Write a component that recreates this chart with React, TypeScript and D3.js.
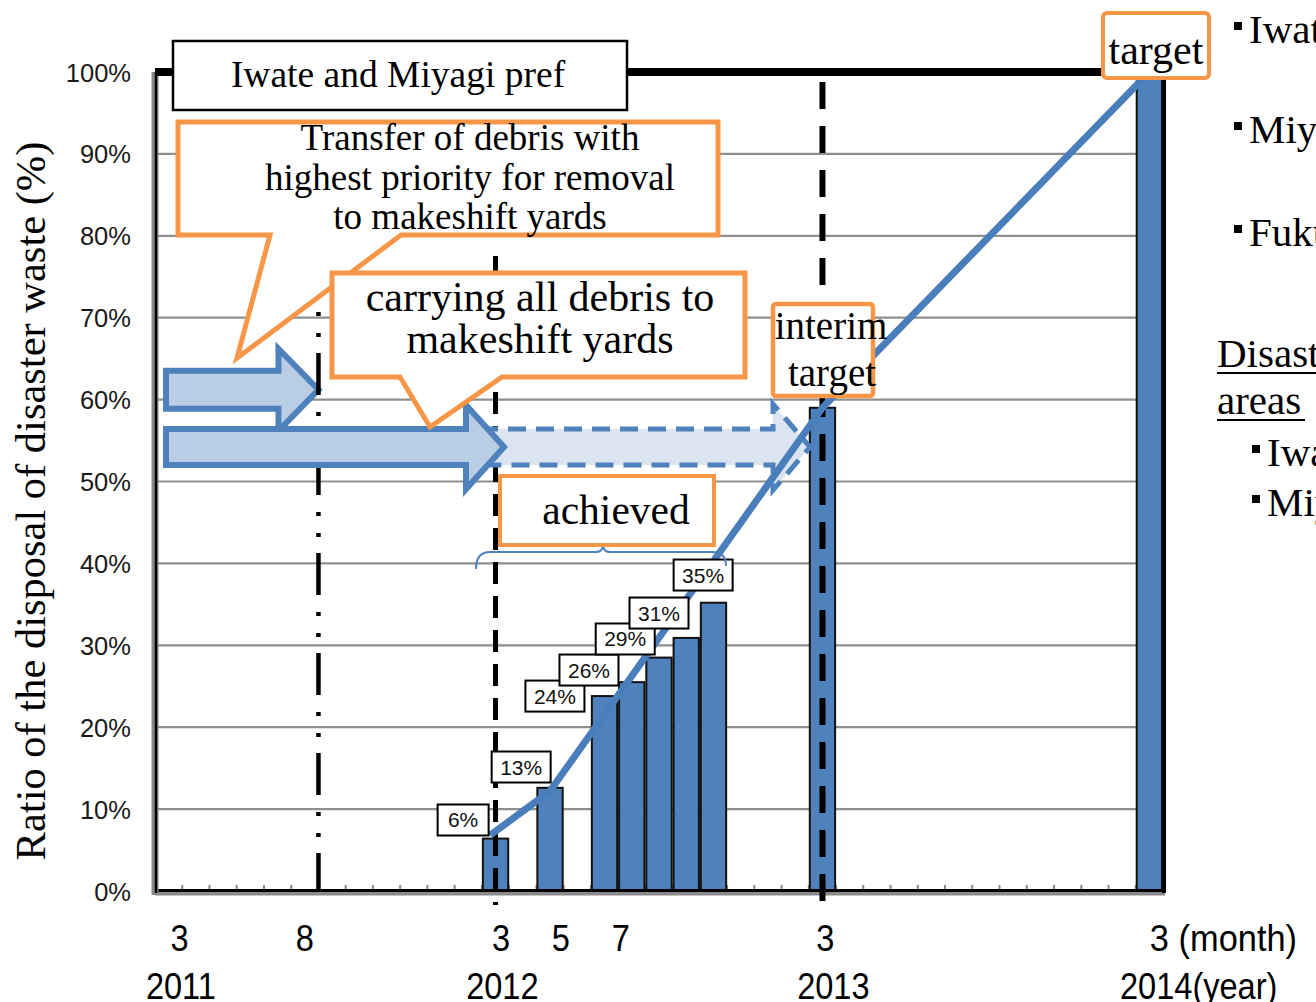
import React from "react";
import * as d3 from "d3";

// ---------- data ----------
const months = d3.range(37); // 0 = Mar 2011 ... 36 = Mar 2014
const barMonth = [12, 14, 16, 17, 18, 19, 20, 24, 36];
const barValue = [6.4, 12.6, 23.8, 25.5, 28.5, 30.9, 35.2, 59, 100];
const labelText = ["6%", "13%", "24%", "26%", "29%", "31%", "35%"];
const labelMonth = [10.81, 12.94, 14.18, 15.43, 16.76, 18.0, 19.62];
const labelValue = [8.67, 15.14, 23.8, 26.98, 30.77, 33.94, 38.58];
const trendMonth = [11.8, 14, 24, 36];
const trendValue = [6.8, 12.2, 59, 100];
const yTicks = [0, 10, 20, 30, 40, 50, 60, 70, 80, 90, 100];
const monthTickPos = [0.4, 5, 12.2, 14.4, 16.6, 24.1, 36.35];
const monthTickText = ["3", "8", "3", "5", "7", "3", "3"];
const yearTickPos = [0.45, 12.25, 24.4, 36.25];
const yearTickText = ["2011", "2012", "2013", "2014"];
const monthUnit = " (month)";
const yearUnit = "(year)";
const dashDotMonth = 5.5;
const phaseMonths = [12, 24];
const rightItems = ["Iwate", "Miyagi", "Fukushima"];
const areaItems = ["Iwate", "Miyagi"];

const W = 1316;
const H = 1002;
const SERIF = "'Liberation Serif', 'Times New Roman', serif";
const SANS = "'Liberation Sans', Arial, 'Noto Sans CJK JP', sans-serif";
const BLUE = "#4f81bd";
const ORANGE = "#f79646";

const PL = 155, PR = 1163, PT = 72, PB = 891;

export default function App() {
  const xb = d3.scaleBand<number>().domain(months).range([PL, PR]).paddingInner(0.07).paddingOuter(0.035);
  const xm = d3.scaleLinear().domain([-0.5, 36.5]).range([PL, PR]);
  const y = d3.scaleLinear().domain([0, 100]).range([PB, PT]);
  const step = xb.step();

  const line = d3.line<number>().x((_, i) => xm(trendMonth[i])).y((d) => y(d));

  const arrow = (x0: number, x1: number, cy: number, sh: number, hh: number, hl: number) =>
    `M${x0},${cy - sh}L${x1 - hl},${cy - sh}L${x1 - hl},${cy - hh}L${x1},${cy}L${x1 - hl},${cy + hh}L${x1 - hl},${cy + sh}L${x0},${cy + sh}Z`;

  const callout = (x0: number, y0: number, x1: number, y1: number, ta: number, tb: number, px: number, py: number) =>
    `M${x0},${y0}L${x1},${y0}L${x1},${y1}L${tb},${y1}L${px},${py}L${ta},${y1}L${x0},${y1}Z`;

  const upperCy = y(61.2);
  const lowerCy = y(54.2);

  const bullet = (x: number, base: number) => (
    <rect x={x} y={base - 21} width={8} height={8} fill="#000" />
  );

  const digitW = 37 * 0.88 * 0.556;
  const lastM = monthTickText.length - 1;
  const lastY = yearTickText.length - 1;

  return (
    <svg width={W} height={H} style={{ position: "absolute", left: 0, top: 0, overflow: "hidden", background: "#fff" }}>
      <rect x={0} y={0} width={W} height={H} fill="#fff" />
      {/* gridlines */}
      {yTicks.filter((t) => t > 0 && t < 100).map((t) => (
        <line key={t} x1={PL} x2={PR} y1={y(t)} y2={y(t)} stroke="#8f8f8f" strokeWidth={2.2} />
      ))}
      {/* bottom ticks */}
      {months.slice(1).map((m) => {
        const xx = (xb(m) as number) - (step - xb.bandwidth()) / 2;
        return <line key={m} x1={xx} x2={xx} y1={PB - 6} y2={PB} stroke="#888" strokeWidth={2} />;
      })}
      {/* bars */}
      {barMonth.map((m, i) => (
        <rect key={m} x={xb(m)} y={y(barValue[i])} width={xb.bandwidth()} height={PB - y(barValue[i])}
          fill={BLUE} stroke="#111" strokeWidth={2} />
      ))}
      {/* axes */}
      <line x1={PL} x2={PR + 2} y1={PB + 2} y2={PB + 2} stroke="#8a8a8a" strokeWidth={5} />
      <line x1={PL} x2={PR + 2} y1={PB - 0.5} y2={PB - 0.5} stroke="#000" strokeWidth={3} />
      <line x1={PL} x2={PL} y1={PT} y2={PB + 4} stroke="#8a8a8a" strokeWidth={7} />
      <line x1={PL + 1} x2={PL + 1} y1={PT} y2={PB + 2} stroke="#000" strokeWidth={2.5} />
      <line x1={PR + 1} x2={PR + 1} y1={PT} y2={PB + 2} stroke="#000" strokeWidth={4} />
      <line x1={PL} x2={PR + 3} y1={PT} y2={PT} stroke="#000" strokeWidth={8} />

      {/* vertical phase lines */}
      <line x1={xm(phaseMonths[0])} x2={xm(phaseMonths[0])} y1={256} y2={905} stroke="#000" strokeWidth={5} strokeDasharray="22,12" />
      <line x1={xm(phaseMonths[1])} x2={xm(phaseMonths[1])} y1={82} y2={905} stroke="#000" strokeWidth={6} strokeDasharray="27,17" />

      {/* arrows */}
      <path d={arrow(480, 810, lowerCy, 18, 43, 37)} fill="#dbe5f1" stroke={BLUE} strokeWidth={5} strokeDasharray="18,10" />
      <path d={arrow(166, xm(dashDotMonth), upperCy, 19, 41, 40)} fill="#b9cde5" stroke={BLUE} strokeWidth={6} strokeLinejoin="miter" />
      <line x1={xm(dashDotMonth)} x2={xm(dashDotMonth)} y1={253} y2={PB} stroke="#000" strokeWidth={4.5} strokeDasharray="42,17,4,17,4,16" />
      <path d={arrow(166, 504, lowerCy, 18, 42, 38)} fill="#b9cde5" stroke={BLUE} strokeWidth={6} strokeLinejoin="miter" />

      {/* trend line */}
      <path d={line(trendValue) as string} fill="none" stroke="#4a7ebb" strokeWidth={7} strokeLinejoin="round" />

      {/* value labels */}
      {labelText.map((t, i) => {
        const w = t.length === 2 ? 51 : 59;
        const cx = xm(labelMonth[i]);
        const cy = y(labelValue[i]);
        return (
          <g key={t}>
            <rect x={cx - w / 2} y={cy - 15.5} width={w} height={31} fill="#fff" stroke="#000" strokeWidth={2} />
            <text x={cx} y={cy + 7.5} textAnchor="middle" fontFamily={SANS} fontSize={21} fill="#111">{t}</text>
          </g>
        );
      })}

      {/* achieved brace */}
      <path d="M476,569 Q476,552 490,552 L596,552 Q602,552 603,546 Q604,552 610,552 L712,552 Q726,552 726,566"
        fill="none" stroke={BLUE} strokeWidth={2} />

      {/* callouts */}
      <path d={callout(178, 122, 718, 235, 270, 401, 237, 358)} fill="#fff" stroke={ORANGE} strokeWidth={5} strokeLinejoin="miter" />
      <g fontFamily={SERIF} fontSize={37} textAnchor="middle" fill="#000">
        <text x={470} y={150}>Transfer of debris with</text>
        <text x={470} y={190}>highest priority for removal</text>
        <text x={470} y={229}>to makeshift yards</text>
      </g>
      <path d={callout(332, 273, 745, 377, 400, 502, 430, 427)} fill="#fff" stroke={ORANGE} strokeWidth={5} strokeLinejoin="miter" />
      <g fontFamily={SERIF} fontSize={42} textAnchor="middle" fill="#000">
        <text x={540} y={311}>carrying all debris to</text>
        <text x={540} y={353}>makeshift yards</text>
      </g>
      <rect x={500} y={476} width={214} height={69} fill="#fff" stroke={ORANGE} strokeWidth={4} />
      <text x={616} y={524} textAnchor="middle" fontFamily={SERIF} fontSize={41.5} fill="#000">achieved</text>

      <rect x={773} y={304} width={100} height={92} rx={3} fill="#fff" stroke={ORANGE} strokeWidth={4.5} />
      <g fontFamily={SERIF} fontSize={39} textAnchor="middle" fill="#000">
        <text x={831} y={339}>interim</text>
        <text x={832} y={386}>target</text>
      </g>

      <rect x={1103} y={13} width={106} height={65} rx={4} fill="#fff" stroke={ORANGE} strokeWidth={4} />
      <text x={1156} y={64} textAnchor="middle" fontFamily={SERIF} fontSize={42} fill="#000">target</text>

      <rect x={173} y={41} width={454} height={69} fill="#fff" stroke="#000" strokeWidth={2.5} />
      <text x={398} y={87} textAnchor="middle" fontFamily={SERIF} fontSize={37.5} fill="#000">Iwate and Miyagi pref</text>

      {/* y axis labels */}
      {yTicks.map((t) => (
        <text key={t} x={131} y={y(t) + 9.5} textAnchor="end" fontFamily={SANS} fontSize={25.5} fill="#1a1a1a">{t}%</text>
      ))}
      <text transform={`translate(45,${(140 + 862) / 2}) rotate(-90)`} textAnchor="middle" fontFamily={SERIF} fontSize={42.5} fill="#000">
        Ratio of the disposal of disaster waste (%)
      </text>

      {/* x axis labels */}
      {monthTickText.map((t, i) =>
        i === lastM ? (
          <text key={"m" + i} transform={`translate(${xm(monthTickPos[i]) - (digitW * t.length) / 2},951) scale(0.93,1)`} fontFamily={SANS} fontSize={37} fill="#000" style={{ whiteSpace: "pre" }}>
            {t + monthUnit}
          </text>
        ) : (
          <text key={"m" + i} transform={`translate(${xm(monthTickPos[i])},951) scale(0.88,1)`} textAnchor="middle" fontFamily={SANS} fontSize={37} fill="#000">{t}</text>
        )
      )}
      {yearTickText.map((t, i) =>
        i === lastY ? (
          <text key={"y" + i} transform={`translate(${xm(yearTickPos[i]) - (digitW * t.length) / 2},999) scale(0.88,1)`} fontFamily={SANS} fontSize={37} fill="#000">
            {t + yearUnit}
          </text>
        ) : (
          <text key={"y" + i} transform={`translate(${xm(yearTickPos[i])},999) scale(0.88,1)`} textAnchor="middle" fontFamily={SANS} fontSize={37} fill="#000">{t}</text>
        )
      )}

      {/* right side text */}
      <g fontFamily={SERIF} fontSize={41} fill="#000">
        {rightItems.map((t, i) => {
          const base = [43, 143, 246][i];
          return (
            <g key={"r" + i}>
              {bullet(1234, base)}
              <text x={1249} y={base}>{t}</text>
            </g>
          );
        })}
        <text x={1217} y={367}>Disaster</text>
        <line x1={1217} x2={1316} y1={373} y2={373} stroke="#000" strokeWidth={2} />
        <text x={1217} y={414}>areas</text>
        <line x1={1217} x2={1305} y1={420} y2={420} stroke="#000" strokeWidth={2} />
        {areaItems.map((t, i) => {
          const base = [466, 516][i];
          return (
            <g key={"a" + i}>
              {bullet(1252, base)}
              <text x={1267} y={base}>{t}</text>
            </g>
          );
        })}
      </g>
    </svg>
  );
}
